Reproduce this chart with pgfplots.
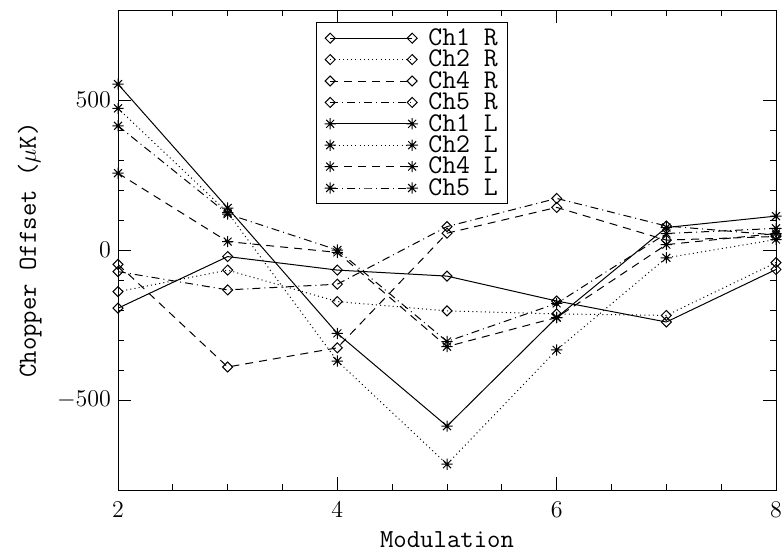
\documentclass[border=0pt]{standalone}
\usepackage{fontspec}
\usepackage{pgfplots}
\pgfplotsset{compat=1.18}

\pgfdeclareplotmark{dia}{%
  \pgfpathmoveto{\pgfqpoint{\pgfplotmarksize}{0pt}}%
  \pgfpathlineto{\pgfqpoint{0pt}{\pgfplotmarksize}}%
  \pgfpathlineto{\pgfqpoint{-\pgfplotmarksize}{0pt}}%
  \pgfpathlineto{\pgfqpoint{0pt}{-\pgfplotmarksize}}%
  \pgfpathclose
  \pgfusepathqstroke}
\pgfdeclareplotmark{ast}{%
  \pgfpathmoveto{\pgfqpoint{-\pgfplotmarksize}{0pt}}\pgfpathlineto{\pgfqpoint{\pgfplotmarksize}{0pt}}%
  \pgfpathmoveto{\pgfqpoint{0pt}{-\pgfplotmarksize}}\pgfpathlineto{\pgfqpoint{0pt}{\pgfplotmarksize}}%
  \pgfpathmoveto{\pgfqpoint{-0.707\pgfplotmarksize}{-0.707\pgfplotmarksize}}\pgfpathlineto{\pgfqpoint{0.707\pgfplotmarksize}{0.707\pgfplotmarksize}}%
  \pgfpathmoveto{\pgfqpoint{-0.707\pgfplotmarksize}{0.707\pgfplotmarksize}}\pgfpathlineto{\pgfqpoint{0.707\pgfplotmarksize}{-0.707\pgfplotmarksize}}%
  \pgfusepathqstroke}

\tikzset{
  sdot/.style={dash pattern=on 0.5pt off 1.6pt},
  sdash/.style={dash pattern=on 4pt off 3pt},
  sdashdot/.style={dash pattern=on 4pt off 2pt on 0.5pt off 2pt},
}

\begin{document}
\begin{tikzpicture}
\begin{axis}[
  scale only axis,
  width=329pt, height=240pt,
  xmin=2, xmax=8, ymin=-800, ymax=800,
  xtick={2,4,6,8}, minor x tick num=3,
  ytick={-500,0,500}, minor y tick num=4,
  tick align=inside,
  major tick length=6.5pt, minor tick length=3.2pt,
  axis line style={line width=0.5pt},
  every tick/.style={black, line width=0.5pt},
  tick label style={font=\fontsize{12}{12}\selectfont},
  xticklabel style={yshift=-2.5pt},
  xlabel={Modulation},
  ylabel={Chopper Offset ($\mu$K)},
  every axis x label/.style={at={(axis description cs:0.5,-0.104)}, anchor=center, font=\fontsize{13}{13}\ttfamily},
  every axis y label/.style={at={(axis description cs:-0.134,0.5)}, anchor=center, rotate=90, font=\fontsize{13}{13}\ttfamily},
  every axis plot/.append style={black, line width=0.5pt},
  legend cell align=left,
  legend image code/.code={\draw[mark repeat=2,mark phase=1,#1] plot coordinates {(0pt,0pt)(20.5pt,0pt)(41pt,0pt)};},
  legend style={at={(0.301,0.975)}, anchor=north west, draw=black, line width=0.5pt,
    font=\fontsize{13.5}{13.5}\ttfamily, row sep=0pt, column sep=4.5pt, inner xsep=4pt, inner ysep=2.5pt,
    nodes={inner sep=0.8pt, text height=8.2pt, text depth=0.9pt}},
]
\addplot[mark=dia, mark size=2.5pt, mark options={solid}] coordinates {(2,-194)(3,-22)(4,-67)(5,-87)(6,-170)(7,-240)(8,-65)};
\addlegendentry{Ch1 R}
\addplot[sdot, mark=dia, mark size=2.5pt, mark options={solid}] coordinates {(2,-139)(3,-67)(4,-172)(5,-203)(6,-213)(7,-218)(8,-42)};
\addlegendentry{Ch2 R}
\addplot[sdash, mark=dia, mark size=2.5pt, mark options={solid}] coordinates {(2,-48)(3,-390)(4,-326)(5,56)(6,142)(7,33)(8,45)};
\addlegendentry{Ch4 R}
\addplot[sdashdot, mark=dia, mark size=2.5pt, mark options={solid}] coordinates {(2,-72)(3,-133)(4,-114)(5,78)(6,172)(7,80)(8,50)};
\addlegendentry{Ch5 R}
\addplot[mark=ast, mark size=2.8pt, mark options={solid}] coordinates {(2,553)(3,140)(4,-278)(5,-587)(6,-225)(7,75)(8,113)};
\addlegendentry{Ch1 L}
\addplot[sdot, mark=ast, mark size=2.8pt, mark options={solid}] coordinates {(2,472)(3,125)(4,-370)(5,-714)(6,-333)(7,-26)(8,35)};
\addlegendentry{Ch2 L}
\addplot[sdash, mark=ast, mark size=2.8pt, mark options={solid}] coordinates {(2,256)(3,28)(4,-8)(5,-322)(6,-225)(7,18)(8,55)};
\addlegendentry{Ch4 L}
\addplot[sdashdot, mark=ast, mark size=2.8pt, mark options={solid}] coordinates {(2,414)(3,120)(4,0)(5,-305)(6,-178)(7,55)(8,72)};
\addlegendentry{Ch5 L}
\end{axis}
\pgfresetboundingbox
\path[use as bounding box] ([xshift=-59pt,yshift=-32pt]current axis.south west) rectangle ([xshift=3pt,yshift=5pt]current axis.north east);
\end{tikzpicture}
\end{document}
